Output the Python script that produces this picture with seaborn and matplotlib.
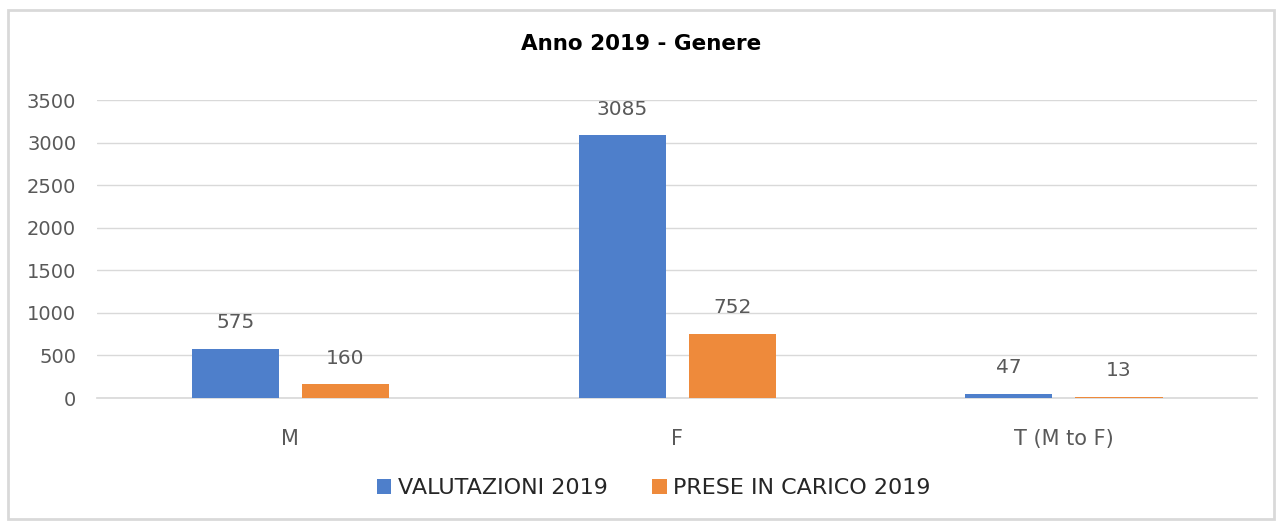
import pandas as pd
import seaborn as sns
import matplotlib.pyplot as plt
from matplotlib.patches import Rectangle

# data
categories = ["M", "F", "T (M to F)"]
valutazioni = [575, 3085, 47]
prese_in_carico = [160, 752, 13]
series_names = ["VALUTAZIONI 2019", "PRESE IN CARICO 2019"]

df = pd.DataFrame({
    "genere": categories * 2,
    "valore": valutazioni + prese_in_carico,
    "serie": [series_names[0]] * 3 + [series_names[1]] * 3,
})

sns.set_theme(style="white")
plt.rcParams["font.family"] = ["DejaVu Sans"]

colors = {series_names[0]: "#4E7FCB", series_names[1]: "#EE8A3B"}
text_grey = "#595959"

fig = plt.figure(figsize=(12.82, 5.21), dpi=100)
ax = fig.add_axes([0.0757, 0.236, 0.905, 0.572])

sns.barplot(data=df, x="genere", y="valore", hue="serie", palette=colors,
            width=0.57, gap=0.21, ax=ax, saturation=1, legend=True,
            linewidth=0)

for cont in ax.containers:
    ax.bar_label(cont, padding=12, fontsize=14.5, color=text_grey)

ax.set_ylim(0, 3500)
ax.set_yticks(range(0, 3501, 500))
ax.yaxis.grid(True, color="#D9D9D9", linewidth=1)
ax.set_axisbelow(True)
for s in ["top", "right", "left"]:
    ax.spines[s].set_visible(False)
ax.spines["bottom"].set_color("#D9D9D9")
ax.spines["bottom"].set_zorder(0)
ax.tick_params(axis="both", length=0, labelcolor=text_grey)
ax.tick_params(axis="y", pad=15, labelsize=14)
ax.tick_params(axis="x", pad=22, labelsize=15)
ax.set_xlabel("")
ax.set_ylabel("")

fig.text(0.5, 0.915, "Anno 2019 - Genere", ha="center", va="center",
         fontsize=15.5, fontweight="bold", color="black")

leg = ax.legend(loc="center", bbox_to_anchor=(0.51, 0.063), bbox_transform=fig.transFigure,
                ncol=2, frameon=False, fontsize=16, handlelength=0.65, handleheight=0.65,
                columnspacing=2.0, handletextpad=0.3)
for t in leg.get_texts():
    t.set_color("#262626")

fig.patches.append(Rectangle((0.006, 0.004), 0.988, 0.976, transform=fig.transFigure,
                             fill=False, edgecolor="#D9D9D9", linewidth=2))

fig.savefig("out.png", dpi=100)
